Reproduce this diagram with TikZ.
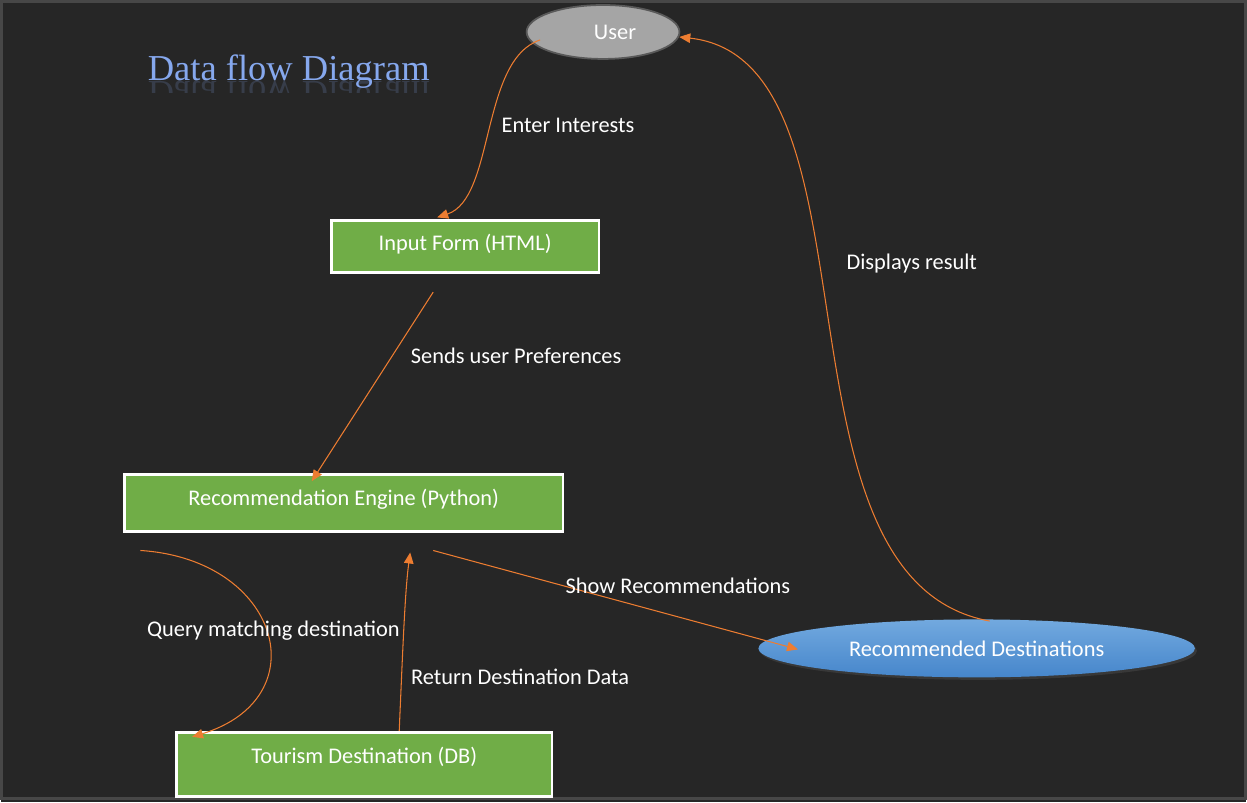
\documentclass[tikz,border=0pt]{standalone}
\usepackage{fontspec}
\setmainfont{Carlito}
\newfontfamily\titlefont{Liberation Serif}
\usetikzlibrary{arrows.meta,shapes.geometric,shadows,calc}

\definecolor{bgdark}{HTML}{262626}
\definecolor{framegray}{HTML}{474747}
\definecolor{procgreen}{HTML}{70AD47}
\definecolor{floworange}{HTML}{ED7D31}
\definecolor{usergray}{HTML}{A5A5A5}
\definecolor{userline}{HTML}{595959}
\definecolor{destlight}{HTML}{72A9DF}
\definecolor{destdark}{HTML}{4686CB}
\definecolor{titleblue}{HTML}{86A8EE}

\tikzset{%
  every process/.style={
    rectangle,
    draw=white,
    line width=1.6pt,
    fill=procgreen,
    text=white,
    text height=0.34cm,
    font=\fontsize{12.75}{14}\selectfont
  },
  every entity/.style={
    ellipse,
    inner sep=0pt,
    text=white,
    font=\fontsize{12.75}{14}\selectfont
  },
  entity user/.style={
    draw=userline,
    line width=1pt,
    fill=usergray,
    minimum width=3.06cm,
    minimum height=1.08cm
  },
  entity result/.style={
    top color=destlight,
    bottom color=destdark,
    minimum width=8.74cm,
    minimum height=1.16cm,
    drop shadow={opacity=.2, shadow xshift=.04cm, shadow yshift=-.05cm}
  },
  flow/.style={
    ->,
    draw=floworange,
    line width=.6pt
  },
  flow label/.style={
    text=white,
    font=\fontsize{12.75}{14}\selectfont
  },
  title text/.style={
    text=titleblue,
    font=\titlefont\fontsize{20.8}{24}\selectfont,
    inner sep=0pt,
    anchor=base west
  }
}

\begin{document}
\begin{tikzpicture}[x=0.02cm, y=-0.02cm, >={Triangle[length=0.22cm,width=0.19cm]}]

            \fill [bgdark] (0,0) rectangle (1247,803);
            \draw [framegray, line width=1.6pt] (0.8,1.4) rectangle (1246.2,799.6);
            \useasboundingbox (0,0) rectangle (1247,803);

            \node [title text] (title) at (147,81) {Data flow Diagram};
            \begin{scope}
              \clip (140,82) rectangle (440,93);
              \node [title text, yscale=-1, opacity=.18] (title-mirror) at (147,82) {Data flow Diagram};
            \end{scope}

            \node [every entity/.try, entity user/.try] (user) at (603,32) {\hspace*{0.48cm}User};
            \node [every entity/.try, entity result/.try] (recdest) at (977,649) {Recommended Destinations};

            \foreach \n/\x/\y/\w/\h/\d/\t in {input/465/247/5.36/1.04/0.19/Input Form (HTML),
                                             engine/343.5/503.5/8.78/1.14/0.23/Recommendation Engine (Python),
                                             tourism/364/765/7.52/1.28/0.39/Tourism Destination (DB)}
              \node [every process/.try, minimum width=\w cm, minimum height=\h cm, text depth=\d cm] (\n) at (\x,\y) {\t};

            \coordinate (engine-out) at (433,551);
            \coordinate (engine-query) at (140,551);
            \coordinate (engine-return) at (410,553);

            \draw [flow] ($(user)+(-63,8)$) .. controls +(-60,20) and +(58,-19) .. ($(input.north)+(-28,-2)$);
            \draw [flow] ($(input.south)+(-32,18)$) -- ($(engine.north)+(-32,8)$);
            \draw [flow] (engine-out) -- ($(recdest.west)+(40,1)$);
            \draw [flow] (engine-query) .. controls +(140,9) and +(127,-39) .. ($(tourism.north west)+(17,6)$);
            \draw [flow] ($(tourism.north)+(35,0)$) .. controls +(4,-93) and +(-5,37) .. (engine-return);
            \draw [flow] ($(recdest.north)+(13,2)$) .. controls +(-230,-42) and +(211,23) .. ($(user.east)+(-1,5)$);

            \foreach \n/\x/\y/\t in {enter/568/126/Enter Interests,
                                    sends/516/356/Sends user Preferences,
                                    displays/912/264/Displays result,
                                    show/678/586/Show Recommendations,
                                    query/273/631/Query matching destination,
                                    return/520/677/Return Destination Data}
              \node [flow label] (label-\n) at (\x,\y) {\t};

\end{tikzpicture}
\end{document}
